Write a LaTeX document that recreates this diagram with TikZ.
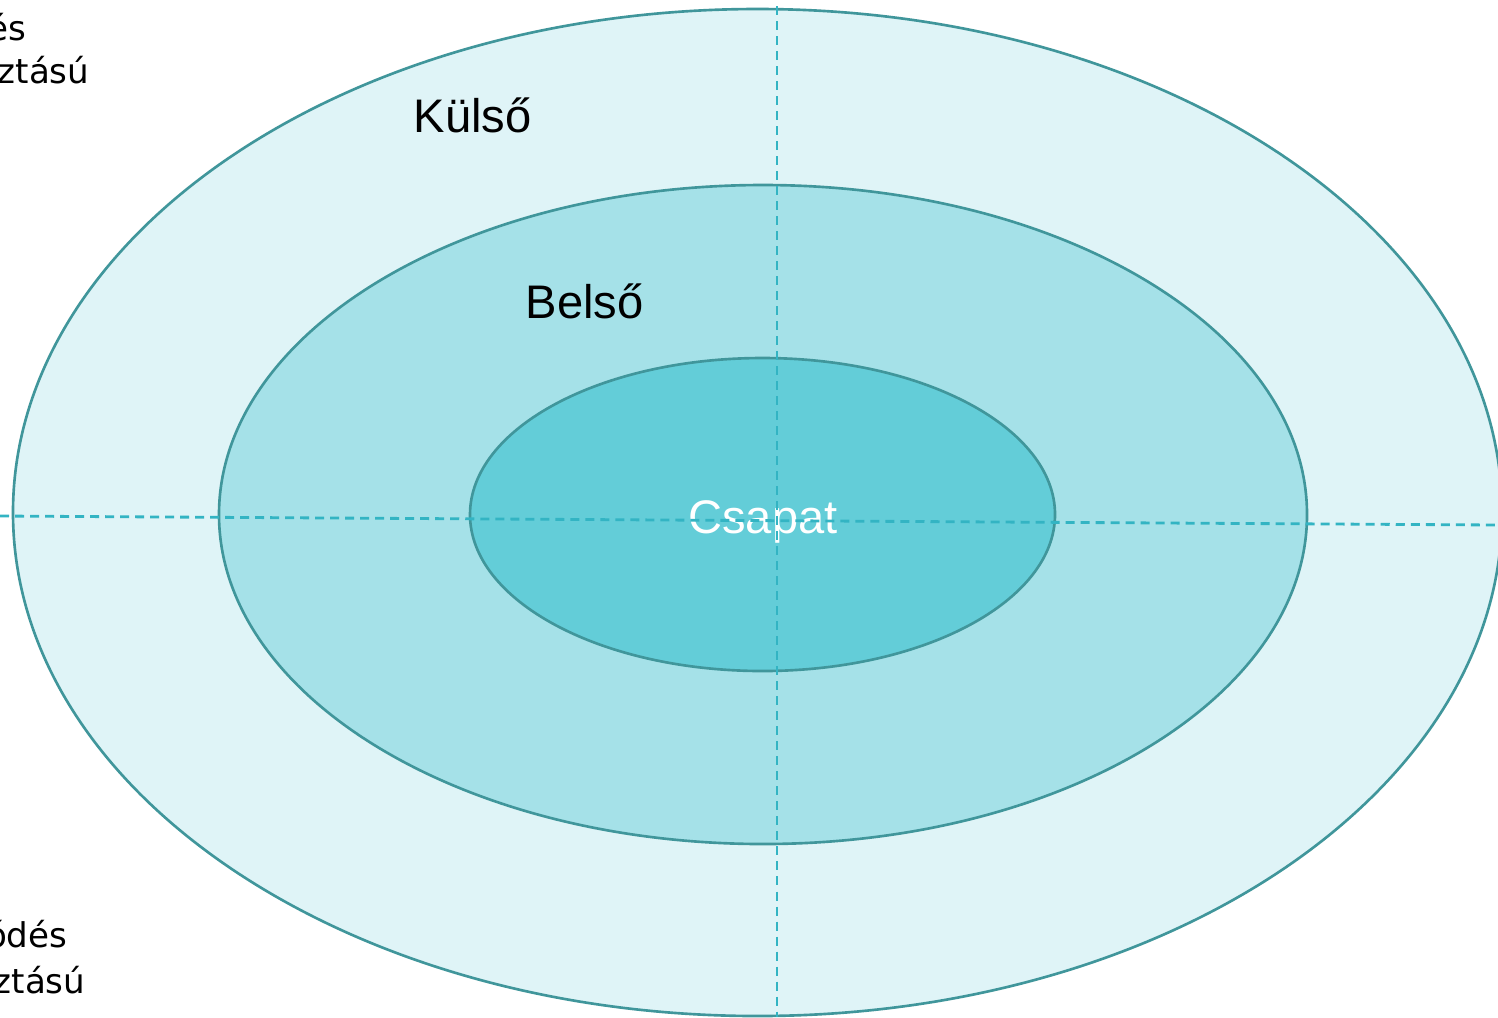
\documentclass[tikz,border=0pt]{standalone}
\usepackage{fontspec}
\setmainfont{Liberation Sans}
\newfontfamily\sidefont{DejaVu Sans}
\definecolor{outerfill}{RGB}{223,244,247}
\definecolor{midfill}{RGB}{165,225,232}
\definecolor{innerfill}{RGB}{99,205,216}
\definecolor{ringline}{RGB}{64,150,155}
\definecolor{axisline}{RGB}{51,180,195}
\begin{document}
\begin{tikzpicture}[x=0.01cm,y=-0.01cm,
  ring/.style={draw=ringline,line width=0.75pt},
  axis/.style={draw=axisline,line width=0.8pt,dash pattern=on 0.09cm off 0.06cm},
  lbl/.style={inner sep=0pt,anchor=base west,font=\fontsize{13.4pt}{16pt}\selectfont},
  side/.style={inner sep=0pt,anchor=base east,font=\sidefont\fontsize{9.7pt}{12pt}\selectfont}]
\useasboundingbox (0,0) rectangle (1498,1017);
\clip (0,0) rectangle (1498,1017);
\fill[white] (0,0) rectangle (1498,1017);
% rings
\filldraw[ring,fill=outerfill] (757.5,512.5) ellipse [x radius=744.5, y radius=503.5];
\filldraw[ring,fill=midfill] (763,514.5) ellipse [x radius=544, y radius=329.5];
\filldraw[ring,fill=innerfill] (762.5,514.5) ellipse [x radius=292.5, y radius=156.5];
% labels
\node[lbl] (kulso) at (413,132) {Külső};
\node[lbl] (belso) at (525,318) {Belső};
\node[lbl,anchor=base,text=white] (csapat) at (763,533) {Csapat};
% cut-off side texts
\node[side] (t1) at (27,40) {és};
\node[side] (t2) at (90,83) {ztású};
\node[side] (b1) at (68,947) {ódés};
\node[side] (b2) at (86,993) {ztású};
% axes
\coordinate (hl) at (0,516);
\coordinate (hr) at (1498,525);
\coordinate (vt) at (777,6);
\coordinate (vb) at (777,1017);
\draw[axis] (hl) -- (hr);
\draw[axis] (vt) -- (vb);
\end{tikzpicture}
\end{document}
